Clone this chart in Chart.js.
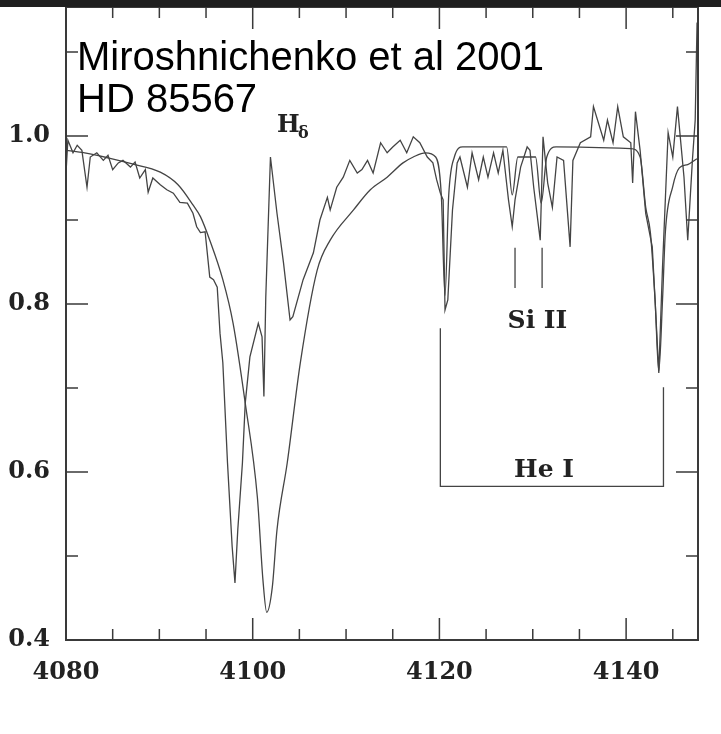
<!DOCTYPE html>
<html>
<head>
<meta charset="utf-8">
<script src="https://cdn.jsdelivr.net/npm/chart.js@4.4.0/dist/chart.umd.min.js"></script>
<style>
  html, body { margin: 0; padding: 0; background: #fff; }
  #wrap { width: 721px; height: 734px; position: relative; }
</style>
</head>
<body>
<div id="wrap"><canvas id="spec"></canvas></div>
<script>
// observed spectrum (wavelength in A, normalised flux)
const obsWave = [4080.0, 4080.2, 4080.75, 4081.2, 4081.7, 4082.25, 4082.6, 4083.3, 4084.0, 4084.5,
  4085.0, 4085.6, 4086.1, 4086.9, 4087.4, 4087.9, 4088.5, 4088.8, 4089.3, 4090.1,
  4090.8, 4091.5, 4092.2, 4093.0, 4093.6, 4094.0, 4094.4, 4094.9, 4095.4, 4095.8,
  4096.2, 4096.5, 4096.8, 4097.3, 4097.8, 4098.1, 4098.4, 4098.9, 4099.2, 4099.7,
  4100.6, 4101.0, 4101.2, 4101.4, 4101.9, 4102.6, 4103.3, 4104.0, 4104.3, 4105.4,
  4106.5, 4107.2, 4108.0, 4108.3, 4109.0, 4109.7, 4110.4, 4111.2, 4111.7, 4112.3,
  4112.9, 4113.7, 4114.4, 4115.0, 4115.8, 4116.5, 4117.2, 4117.9, 4118.7, 4119.3,
  4119.7, 4120.1, 4120.4, 4120.6, 4120.9, 4121.4, 4121.9, 4122.2, 4123.0, 4123.5,
  4124.2, 4124.7, 4125.2, 4125.8, 4126.3, 4126.8, 4127.4, 4127.8, 4128.1, 4128.7,
  4129.4, 4129.7, 4130.1, 4130.8, 4131.1, 4131.6, 4132.1, 4132.6, 4133.3, 4134.0,
  4134.3, 4135.1, 4136.2, 4136.5, 4137.6, 4138.0, 4138.6, 4139.1, 4139.7, 4140.5,
  4140.7, 4141.0, 4141.5, 4142.1, 4142.8, 4143.1, 4143.5, 4143.9, 4144.2, 4144.5,
  4145.0, 4145.5, 4146.2, 4146.6, 4147.1, 4147.4, 4147.6];
const obsFlux = [0.956, 0.995, 0.980, 0.989, 0.983, 0.939, 0.975, 0.980, 0.971, 0.977,
  0.960, 0.968, 0.971, 0.963, 0.969, 0.950, 0.960, 0.933, 0.950, 0.942,
  0.936, 0.932, 0.921, 0.920, 0.908, 0.892, 0.885, 0.886, 0.832, 0.829,
  0.820, 0.765, 0.730, 0.611, 0.511, 0.468, 0.531, 0.611, 0.682, 0.737,
  0.777, 0.761, 0.690, 0.808, 0.975, 0.908, 0.849, 0.781, 0.785, 0.829,
  0.861, 0.900, 0.927, 0.912, 0.939, 0.951, 0.971, 0.956, 0.960, 0.971,
  0.956, 0.992, 0.980, 0.987, 0.995, 0.980, 0.999, 0.992, 0.975, 0.968,
  0.948, 0.932, 0.924, 0.793, 0.805, 0.912, 0.968, 0.975, 0.939, 0.980,
  0.948, 0.975, 0.951, 0.980, 0.956, 0.983, 0.924, 0.892, 0.924, 0.963,
  0.987, 0.983, 0.939, 0.876, 0.999, 0.944, 0.915, 0.975, 0.971, 0.868,
  0.971, 0.992, 0.999, 1.035, 0.995, 1.019, 0.992, 1.035, 0.999, 0.992,
  0.944, 1.029, 0.983, 0.908, 0.868, 0.805, 0.718, 0.844, 0.924, 1.004,
  0.975, 1.035, 0.951, 0.876, 0.971, 1.019, 1.135];

// model spectrum
const modelWave = [4080.0, 4082.0, 4084.5, 4087.0, 4090.1, 4092.0, 4093.6, 4094.4, 4095.4, 4096.8,
  4097.9, 4099.2, 4100.5, 4101.1, 4101.5, 4102.1, 4102.6, 4103.7, 4105.1, 4106.9,
  4108.3, 4110.8, 4112.6, 4114.4, 4116.1, 4117.2, 4118.5, 4119.6, 4120.2, 4120.6,
  4121.0, 4121.6, 4122.5, 4127.2, 4127.8, 4128.4, 4130.3, 4130.9, 4131.5, 4132.5,
  4140.5, 4141.5, 4142.1, 4142.6, 4143.1, 4143.5, 4143.9, 4144.2, 4145.0, 4145.7,
  4146.6, 4147.6];
const modelFlux = [0.983, 0.980, 0.974, 0.967, 0.957, 0.942, 0.918, 0.904, 0.876, 0.829,
  0.777, 0.682, 0.570, 0.471, 0.433, 0.463, 0.531, 0.611, 0.730, 0.840,
  0.876, 0.912, 0.936, 0.951, 0.968, 0.975, 0.980, 0.975, 0.930, 0.810,
  0.930, 0.975, 0.987, 0.987, 0.930, 0.975, 0.975, 0.920, 0.975, 0.987,
  0.985, 0.975, 0.915, 0.885, 0.805, 0.720, 0.805, 0.885, 0.940, 0.962,
  0.966, 0.973];

// axis ticks
const xMajor = [4080, 4100, 4120, 4140];
const xMinor = [4085, 4090, 4095, 4105, 4110, 4115, 4125, 4130, 4135, 4145];
const yMajor = [0.4, 0.6, 0.8, 1.0];
const yMinor = [0.5, 0.7, 0.9, 1.1];

// line identifications (data units)
const siLines = [4128.1, 4131.0];
const heLeft = 4120.1, heRight = 4144.0;

const toPoints = (xs, ys) => xs.map((x, i) => ({ x: x, y: ys[i] }));
const serifBold = px => 'bold ' + px + 'px "DejaVu Serif"';

const decor = {
  id: 'decor',
  afterDraw(chart) {
    const { ctx, chartArea: a, scales: { x, y } } = chart;
    ctx.save();

    // frame + inward ticks
    ctx.strokeStyle = '#3a3a3a';
    ctx.lineWidth = 2;
    ctx.strokeRect(a.left, a.top, a.right - a.left, a.bottom - a.top);
    ctx.lineWidth = 1.5;
    ctx.beginPath();
    xMajor.concat(xMinor).forEach(v => {
      const len = xMajor.includes(v) ? 22 : 11;
      const px = x.getPixelForValue(v);
      ctx.moveTo(px, a.bottom); ctx.lineTo(px, a.bottom - len);
      ctx.moveTo(px, a.top); ctx.lineTo(px, a.top + len);
    });
    yMajor.concat(yMinor).forEach(v => {
      const len = yMajor.includes(v) ? 22 : 12;
      const py = y.getPixelForValue(v);
      ctx.moveTo(a.left, py); ctx.lineTo(a.left + len, py);
      ctx.moveTo(a.right, py); ctx.lineTo(a.right - len, py);
    });
    ctx.stroke();

    // Si II markers and He I bracket
    ctx.strokeStyle = '#444';
    ctx.lineWidth = 1.3;
    ctx.beginPath();
    siLines.forEach(v => {
      const px = x.getPixelForValue(v);
      ctx.moveTo(px, y.getPixelForValue(0.867));
      ctx.lineTo(px, y.getPixelForValue(0.819));
    });
    ctx.moveTo(x.getPixelForValue(heLeft), y.getPixelForValue(0.771));
    ctx.lineTo(x.getPixelForValue(heLeft), y.getPixelForValue(0.583));
    ctx.lineTo(x.getPixelForValue(heRight), y.getPixelForValue(0.583));
    ctx.lineTo(x.getPixelForValue(heRight), y.getPixelForValue(0.701));
    ctx.stroke();

    // labels
    ctx.fillStyle = '#222';
    ctx.textBaseline = 'alphabetic';
    ctx.font = serifBold(24);
    ctx.textAlign = 'left';
    const hx = x.getPixelForValue(4102.6), hy = y.getPixelForValue(1.005);
    ctx.fillText('H', hx, hy);
    ctx.font = serifBold(16);
    ctx.fillText('\u03b4', hx + 21, hy + 6);
    ctx.font = serifBold(25);
    ctx.textAlign = 'center';
    ctx.fillText('Si II', x.getPixelForValue(4130.5), y.getPixelForValue(0.771));
    ctx.fillText('He I', x.getPixelForValue(4131.2), y.getPixelForValue(0.594));

    // top bar from the screenshot
    ctx.fillStyle = '#1f1f1f';
    ctx.fillRect(0, 0, chart.width, 7);

    // title overlay
    ctx.fillStyle = '#000';
    ctx.textAlign = 'left';
    ctx.font = '40px "Liberation Sans"';
    ctx.fillText('Miroshnichenko et al 2001', a.left + 11, 70);
    ctx.fillText('HD 85567', a.left + 11, 112);
    ctx.restore();
  }
};

new Chart(document.getElementById('spec'), {
  type: 'line',
  data: {
    datasets: [{
      label: 'observed',
      data: toPoints(obsWave, obsFlux),
      borderColor: '#444',
      borderWidth: 1.3,
      pointRadius: 0,
      tension: 0
    }, {
      label: 'model',
      data: toPoints(modelWave, modelFlux),
      borderColor: '#444',
      borderWidth: 1.3,
      pointRadius: 0,
      cubicInterpolationMode: 'monotone'
    }]
  },
  options: {
    responsive: true,
    maintainAspectRatio: false,
    animation: false,
    layout: { padding: { top: 7, right: 23, left: 0, bottom: 0 } },
    plugins: {
      legend: { display: false },
      tooltip: { enabled: false }
    },
    scales: {
      x: {
        type: 'linear',
        min: 4080,
        max: 4147.7,
        grid: { display: false, drawTicks: false },
        border: { display: false },
        afterBuildTicks: s => { s.ticks = xMajor.map(v => ({ value: v })); },
        afterFit: s => { s.height = 94; s.paddingLeft = 0; s.paddingRight = 0; },
        ticks: {
          padding: 18,
          color: '#222',
          font: { family: 'DejaVu Serif', weight: 'bold', size: 24 },
          maxRotation: 0,
          callback: v => String(v)
        }
      },
      y: {
        min: 0.4,
        max: 1.1536,
        grid: { display: false, drawTicks: false },
        border: { display: false },
        afterBuildTicks: s => { s.ticks = yMajor.map(v => ({ value: v })); },
        afterFit: s => { s.width = 66; s.paddingTop = 0; s.paddingBottom = 0; },
        ticks: {
          padding: 16,
          color: '#222',
          font: { family: 'DejaVu Serif', weight: 'bold', size: 24 },
          callback: v => v.toFixed(1)
        }
      }
    }
  },
  plugins: [decor]
});
</script>
</body>
</html>
